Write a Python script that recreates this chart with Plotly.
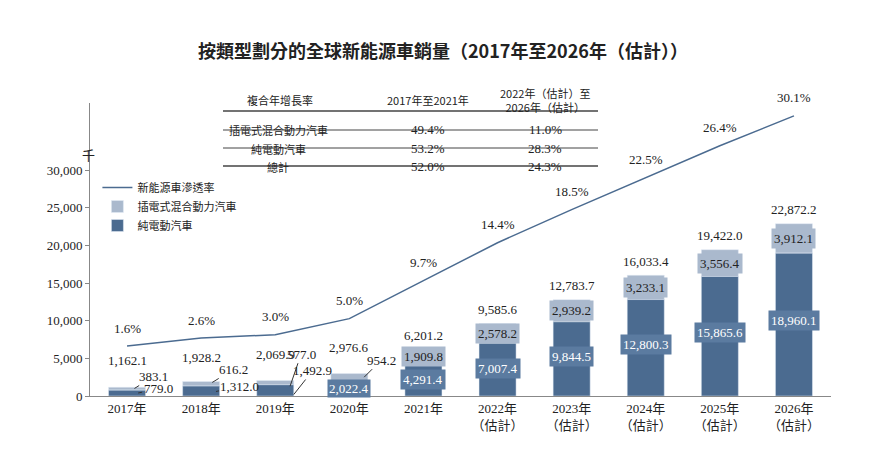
import plotly.graph_objects as go

years = ["2017年", "2018年", "2019年", "2020年", "2021年",
         "2022年<br>（估計）", "2023年<br>（估計）", "2024年<br>（估計）", "2025年<br>（估計）", "2026年<br>（估計）"]
bev = [779.0, 1312.0, 1492.9, 2022.4, 4291.4, 7007.4, 9844.5, 12800.3, 15865.6, 18960.1]
phev = [383.1, 616.2, 577.0, 954.2, 1909.8, 2578.2, 2939.2, 3233.1, 3556.4, 3912.1]
total = [1162.1, 1928.2, 2069.9, 2976.6, 6201.2, 9585.6, 12783.7, 16033.4, 19422.0, 22872.2]
rate = [1.6, 2.6, 3.0, 5.0, 9.7, 14.4, 18.5, 22.5, 26.4, 30.1]

tbl_header = ["複合年增長率", "2017年至2021年", "2022年（估計）至<br>2026年（估計）"]
tbl_rows = ["插電式混合動力汽車", "純電動汽車", "總計"]
tbl_c1 = ["49.4%", "53.2%", "52.0%"]
tbl_c2 = ["11.0%", "28.3%", "24.3%"]

DARK = "#4b6b90"
LIGHT = "#aab9cd"
SERIF = "Liberation Serif, Noto Sans CJK TC"
CJK = "Noto Sans CJK TC"

x = list(range(len(years)))
fig = go.Figure()
fig.add_trace(go.Scatter(x=x, y=rate, yaxis="y2", mode="lines", name="新能源車滲透率",
                         line=dict(color=DARK, width=1.5)))
fig.add_trace(go.Bar(x=x, y=phev, base=bev, name="插電式混合動力汽車", marker_color=LIGHT, width=0.5))
fig.add_trace(go.Bar(x=x, y=bev, name="純電動汽車", marker_color=DARK, width=0.5))

def fmt(v):
    return f"{v:,.1f}"

ann = []
nf = dict(family=SERIF, size=13, color="#222")
for i, r in enumerate(rate):
    ann.append(dict(x=i, y=r, yref="y2", text=f"{r:.1f}%", showarrow=False, yshift=18, font=nf,
                    xanchor="center"))
# (total yshift), PHEV (tipx, tipy, ax, ay), BEV (tipx, tipy, ax, ay)
early = {0: (27, (0.1, 1000, 19, -12), (0.15, 400, 20, -4)),
         1: (24, (1.15, 1800, 21, -13), (1.2, 600, 24, -5)),
         2: (26, (2.2, 1300, 11, -32), (2.25, 200, 19, -24))}
for i in range(10):
    if i in early:
        ty, (px_, py_, pax, pay), (bx, by, bax, bay) = early[i]
        ann.append(dict(x=i, y=total[i], text=fmt(total[i]), showarrow=False, yshift=ty, font=nf,
                        xanchor="center"))
        ann.append(dict(x=px_, y=py_, text=fmt(phev[i]), showarrow=True, arrowhead=0, arrowwidth=1,
                        arrowcolor="#333", ax=pax, ay=pay, xanchor="center", font=nf))
        ann.append(dict(x=bx, y=by, text=fmt(bev[i]), showarrow=True, arrowhead=0, arrowwidth=1,
                        arrowcolor="#333", ax=bax, ay=bay, xanchor="center", font=nf))
    elif i == 3:
        ann.append(dict(x=i, y=total[i], text=fmt(total[i]), showarrow=False, yshift=26, font=nf,
                        xanchor="center"))
        ann.append(dict(x=3.2, y=2500, text=fmt(phev[i]), showarrow=True, arrowhead=0, arrowwidth=1,
                        arrowcolor="#333", ax=17, ay=-17, xanchor="center", font=nf))
        ann.append(dict(x=i, y=bev[i] / 2, text=fmt(bev[i]), showarrow=False, bgcolor="#5b7ba0",
                        xanchor="center", font=dict(family=SERIF, size=13, color="white")))
    else:
        ann.append(dict(x=i, y=total[i], text=fmt(total[i]), showarrow=False, yshift=14, font=nf,
                        xanchor="center"))
        ann.append(dict(x=i, y=bev[i] + phev[i] / 2, text=fmt(phev[i]), showarrow=False, bgcolor=LIGHT,
                        xanchor="center", font=nf, borderpad=2))
        ann.append(dict(x=i, y=bev[i] / 2 + (0 if i < 5 else bev[i] * 0.03), text=fmt(bev[i]),
                        showarrow=False, bgcolor="#5b7ba0", xanchor="center", borderpad=2,
                        font=dict(family=SERIF, size=13, color="white")))

def px(p): return (p - 82) / 741
def py(p): return (388 - p) / 293

tf = dict(family=CJK, size=11, color="#222")
cols = [272, 420, 537]
for c, h in zip(cols, tbl_header):
    ann.append(dict(xref="paper", yref="paper", x=px(c), y=py(92), text=h, showarrow=False,
                    font=tf, xanchor="center", yanchor="middle"))
rows_y = [112, 131, 149]
for ry, a, b, c in zip(rows_y, tbl_rows, tbl_c1, tbl_c2):
    ann.append(dict(xref="paper", yref="paper", x=px(270), y=py(ry), text=a, showarrow=False, font=tf,
                    xanchor="center"))
    ann.append(dict(xref="paper", yref="paper", x=px(420), y=py(ry), text=b, showarrow=False, font=nf,
                    xanchor="center"))
    ann.append(dict(xref="paper", yref="paper", x=px(537), y=py(ry), text=c, showarrow=False, font=nf,
                    xanchor="center"))
shapes = []
for ly, w in [(103, 1.5), (122, 1), (140, 1), (158, 1.5)]:
    shapes.append(dict(type="line", xref="paper", yref="paper", x0=px(215), x1=px(590),
                       y0=py(ly), y1=py(ly), line=dict(color="#444", width=w)))

ann.append(dict(xref="paper", yref="paper", x=px(80), y=py(135), text="千", showarrow=False,
                xanchor="center", font=dict(family=CJK, size=13, color="#222")))
ann.append(dict(xref="paper", yref="paper", x=px(435), y=py(42),
                text="<b>按類型劃分的全球新能源車銷量（2017年至2026年（估計））</b>",
                showarrow=False, font=dict(family=CJK, size=18, color="#222"),
                xanchor="center", yanchor="middle"))

fig.update_layout(
    width=870, height=459, margin=dict(l=82, r=47, t=95, b=71, autoexpand=False),
    plot_bgcolor="white", paper_bgcolor="white", barmode="overlay",
    xaxis=dict(tickvals=x, ticktext=years, range=[-0.5, 9.5], showline=True, linecolor="#888",
               automargin=False,
               tickfont=dict(family=SERIF, size=13, color="#222"), ticks=""),
    yaxis=dict(range=[0, 38894], tickvals=[0, 5000, 10000, 15000, 20000, 25000, 30000],
               automargin=False,
               tickformat=",", showgrid=False, showline=True, linecolor="#888", ticks="outside",
               ticklen=4, tickcolor="#888", tickfont=dict(family=SERIF, size=13, color="#222")),
    yaxis2=dict(overlaying="y", range=[-4.58, 31.7], visible=False),
    legend=dict(x=0.01, y=py(165), xanchor="left", yanchor="top", traceorder="normal",
                font=dict(family=CJK, size=11, color="#222"), bgcolor="rgba(0,0,0,0)"),
    annotations=ann, shapes=shapes,
)
fig.write_html("out.html")
